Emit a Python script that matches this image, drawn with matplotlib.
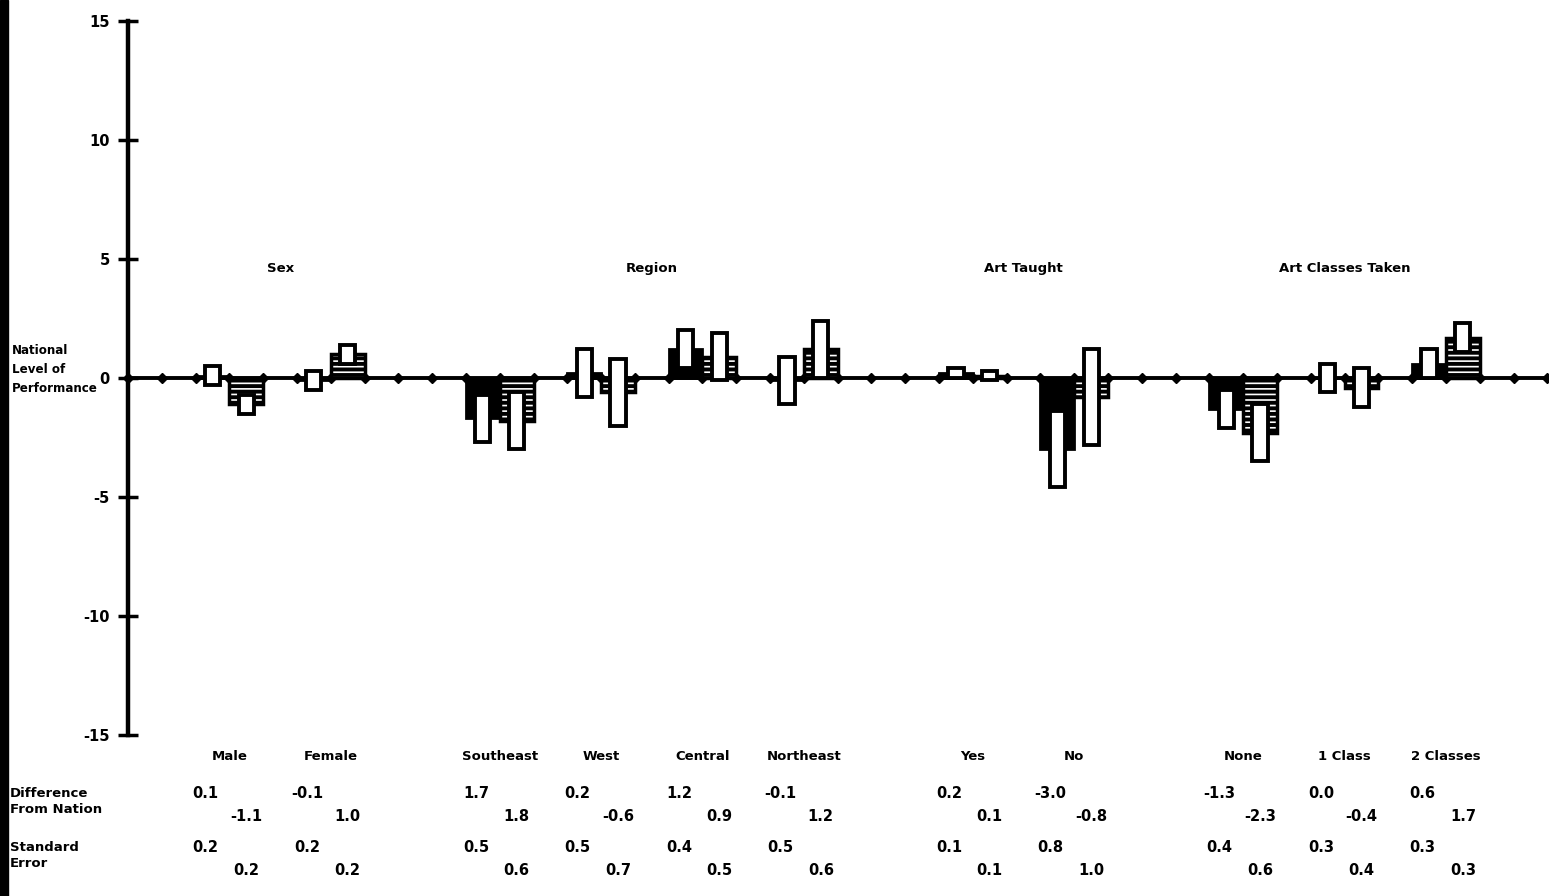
import numpy as np
import matplotlib
matplotlib.use("Agg")
import matplotlib.pyplot as plt
from matplotlib.patches import Rectangle
from matplotlib.transforms import blended_transform_factory

plt.rcParams['font.family'] = ['DejaVu Sans']
plt.rcParams['font.weight'] = 'bold'
plt.rcParams['hatch.linewidth'] = 2.8

# groups and subgroups
groups = ["Sex", "Region", "Art Taught", "Art Classes Taken"]
group_sizes = [2, 4, 2, 3]
subgroups = ["Male", "Female", "Southeast", "West", "Central", "Northeast",
             "Yes", "No", "None", "1 Class", "2 Classes"]

# difference from nation (first / second assessment)
diff1 = [0.1, -0.1, -1.7, 0.2, 1.2, -0.1, 0.2, -3.0, -1.3, 0.0, 0.6]
diff2 = [-1.1, 1.0, -1.8, -0.6, 0.9, 1.2, 0.1, -0.8, -2.3, -0.4, 1.7]
# standard errors
se1 = [0.2, 0.2, 0.5, 0.5, 0.4, 0.5, 0.1, 0.8, 0.4, 0.3, 0.3]
se2 = [0.2, 0.2, 0.6, 0.7, 0.5, 0.6, 0.1, 1.0, 0.6, 0.4, 0.3]

# numbers as printed under the chart
diff1_txt = ["0.1", "-0.1", "1.7", "0.2", "1.2", "-0.1", "0.2", "-3.0", "-1.3", "0.0", "0.6"]
diff2_txt = ["-1.1", "1.0", "1.8", "-0.6", "0.9", "1.2", "0.1", "-0.8", "-2.3", "-0.4", "1.7"]
se1_txt = ["0.2", "0.2", "0.5", "0.5", "0.4", "0.5", "0.1", "0.8", "0.4", "0.3", "0.3"]
se2_txt = ["0.2", "0.2", "0.6", "0.7", "0.5", "0.6", "0.1", "1.0", "0.6", "0.4", "0.3"]

yticks = [15, 10, 5, 0, -5, -10, -15]

W, H = 1549, 896
fig = plt.figure(figsize=(W / 100, H / 100), dpi=100)
ax = fig.add_axes([128 / W, 1 - 735 / H, 1 - 128 / W, (735 - 21) / H])

# scanned page edge on the left
fig.patches.append(Rectangle((0, 0), 8 / W, 1, transform=fig.transFigure,
                             color='black', zorder=0))

# slot layout: 2 bars + 1 gap per subgroup, 2 extra slots between groups
slots = []
group_centers = []
s = 2
for n in group_sizes:
    first = s
    for k in range(n):
        slots.append(s)
        s += 3
    group_centers.append((first + s - 1) / 2)
    s += 2
n_slots = 42

# baseline with diamonds
xs = np.arange(0, n_slots + 1)
ax.plot(xs, np.zeros(len(xs)), color='black', lw=2.8, marker='D', ms=5.5,
        zorder=2, clip_on=False)

box_w = 0.45
for i, s0 in enumerate(slots):
    x1 = s0 + 0.5
    x2 = s0 + 1.5
    ax.bar(x1, diff1[i], width=1.0, color='black', edgecolor='black', lw=2, zorder=3)
    ax.bar(x2, diff2[i], width=1.0, color='white', edgecolor='black', lw=2.5,
           hatch='---', zorder=3)
    ax.bar(x1, 4 * se1[i], bottom=diff1[i] - 2 * se1[i], width=box_w,
           color='white', edgecolor='black', lw=2.8, zorder=4)
    ax.bar(x2, 4 * se2[i], bottom=diff2[i] - 2 * se2[i], width=box_w,
           color='white', edgecolor='black', lw=2.8, zorder=4)

for g, xc in zip(groups, group_centers):
    ax.text(xc, 4.6, g, ha='center', va='center', fontsize=9.5, fontweight='bold')

ax.set_xlim(0, n_slots + 0.05)
ax.set_ylim(-15, 15)
ax.set_yticks(yticks)
ax.set_yticklabels([str(t) for t in yticks], fontsize=10.5, fontweight='bold')
ax.set_xticks([])
ax.tick_params(axis='y', direction='inout', length=14, width=2.5, pad=6)
for sp in ['top', 'right', 'bottom']:
    ax.spines[sp].set_visible(False)
ax.spines['left'].set_linewidth(3.2)

fig.text(12 / W, 1 - 369 / H, "National\nLevel of\nPerformance", ha='left', va='center',
         fontsize=8.6, fontweight='bold', linespacing=1.6)

# table under the chart
fy = lambda px: 1 - px / H
bt = blended_transform_factory(ax.transData, fig.transFigure)

fig.text(10 / W, fy(801), "Difference\nFrom Nation", ha='left', va='center',
         fontsize=9.5, fontweight='bold', linespacing=1.3)
fig.text(10 / W, fy(855), "Standard\nError", ha='left', va='center',
         fontsize=9.5, fontweight='bold', linespacing=1.3)

for i, s0 in enumerate(slots):
    ax.text(s0 + 1.0, fy(757), subgroups[i], transform=bt, ha='center', va='center',
            fontsize=9.5, fontweight='bold')
    ax.text(s0 + 0.3, fy(793), diff1_txt[i], transform=bt, ha='center', va='center',
            fontsize=10.5, fontweight='bold')
    ax.text(s0 + 1.5, fy(816), diff2_txt[i], transform=bt, ha='center', va='center',
            fontsize=10.5, fontweight='bold')
    ax.text(s0 + 0.3, fy(847), se1_txt[i], transform=bt, ha='center', va='center',
            fontsize=10.5, fontweight='bold')
    ax.text(s0 + 1.5, fy(870), se2_txt[i], transform=bt, ha='center', va='center',
            fontsize=10.5, fontweight='bold')

fig.savefig("out.png", dpi=100)
